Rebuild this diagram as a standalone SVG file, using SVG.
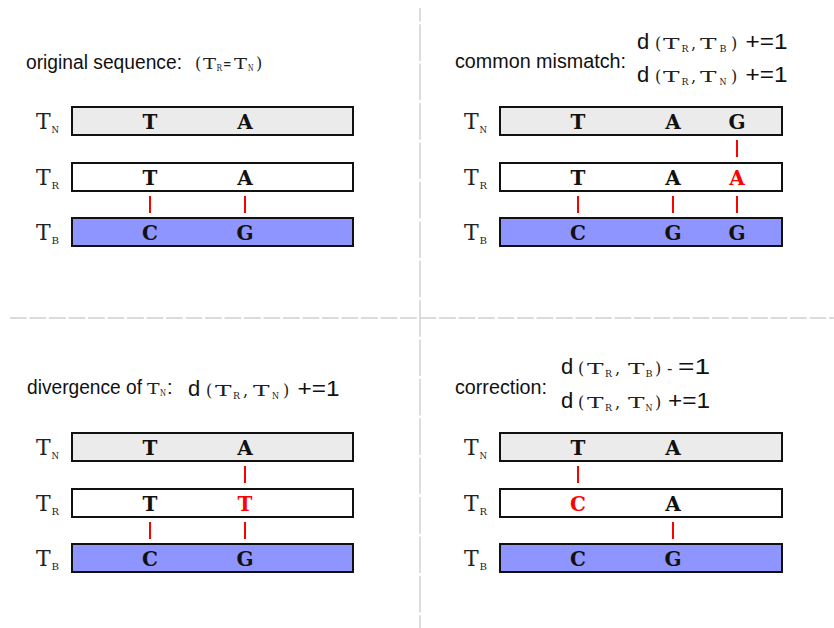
<svg xmlns="http://www.w3.org/2000/svg" width="834" height="628" viewBox="0 0 834 628">
<style>
.sans{font-family:"Liberation Sans",Arial,sans-serif;fill:#111}
.t{font-size:20px}
.d{font-size:22px}
.mono{font-family:"DejaVu Serif","Liberation Serif",serif;fill:#222}
.fm{font-size:14.5px}
.par{font-size:16px}
.sub{font-size:8.5px}
.lbl{font-size:22px}
.lsub{font-size:10px}
.let{font-family:"DejaVu Serif","Liberation Serif",serif;font-weight:bold;font-size:20px;fill:#111;text-anchor:middle}
.red{fill:#ff0000}
.bn{fill:#ebebeb;stroke:#111;stroke-width:2}
.br{fill:#ffffff;stroke:#111;stroke-width:2}
.bb{fill:#8e95ff;stroke:#111;stroke-width:2}
.ln{stroke:#ff0000;stroke-width:2}
.div{stroke:#cfcfcf;stroke-width:1.4;fill:none}
</style>
<g id="dividers">
<line class="div" x1="420" y1="8" x2="420" y2="628" stroke-dasharray="36.7 2.7" stroke-dashoffset="23.2"/>
<line class="div" x1="10" y1="318" x2="834" y2="318" stroke-dasharray="16.8 2.7"/>
</g>

<!-- Panel 1 -->
<g id="panel1-title">
<text class="sans t" x="26" y="69" textLength="156" lengthAdjust="spacingAndGlyphs">original sequence:</text>
<text class="mono par" x="195" y="69">(</text>
<text class="mono fm" x="203" y="69" textLength="13" lengthAdjust="spacingAndGlyphs">T</text>
<text class="mono sub" x="216.5" y="71" textLength="5.5" lengthAdjust="spacingAndGlyphs">R</text>
<text class="mono fm" x="223" y="69" textLength="8.5" lengthAdjust="spacingAndGlyphs">=</text>
<text class="mono fm" x="234" y="69" textLength="13" lengthAdjust="spacingAndGlyphs">T</text>
<text class="mono sub" x="248" y="71" textLength="5.5" lengthAdjust="spacingAndGlyphs">N</text>
<text class="mono par" x="256" y="69">)</text>
</g>
<g id="p1-labels">
<text class="mono lbl" x="36" y="129">T</text><text class="mono lsub" x="51.5" y="133" textLength="7.5" lengthAdjust="spacingAndGlyphs">N</text>
<text class="mono lbl" x="36" y="185">T</text><text class="mono lsub" x="51.5" y="189" textLength="7.5" lengthAdjust="spacingAndGlyphs">R</text>
<text class="mono lbl" x="36" y="240">T</text><text class="mono lsub" x="51.5" y="244" textLength="7.5" lengthAdjust="spacingAndGlyphs">B</text>
</g>
<g id="p1-TN"><rect class="bn" x="72" y="107" width="281" height="28"/><text class="let" x="150" y="129">T</text><text class="let" x="245" y="129">A</text></g>
<g id="p1-TR"><rect class="br" x="72" y="163" width="281" height="28"/><text class="let" x="150" y="185">T</text><text class="let" x="245" y="185">A</text></g>
<g id="p1-TB"><rect class="bb" x="72" y="218" width="281" height="28"/><text class="let" x="150" y="240">C</text><text class="let" x="245" y="240">G</text></g>

<!-- Panel 2 -->
<g id="panel2-title">
<text class="sans t" x="455" y="68" textLength="171" lengthAdjust="spacingAndGlyphs">common mismatch:</text>
<text class="sans d" x="637" y="49">d</text>
<text class="mono par" x="655" y="49">(</text>
<text class="mono fm" x="663" y="49" textLength="16.5" lengthAdjust="spacingAndGlyphs">T</text>
<text class="mono sub" x="681.5" y="52" textLength="7" lengthAdjust="spacingAndGlyphs">R</text>
<text class="mono par" x="691" y="49">,</text>
<text class="mono fm" x="700" y="49" textLength="16.5" lengthAdjust="spacingAndGlyphs">T</text>
<text class="mono sub" x="719.5" y="52" textLength="7" lengthAdjust="spacingAndGlyphs">B</text>
<text class="mono par" x="731" y="49">)</text>
<text class="sans d" x="745.5" y="49" textLength="42" lengthAdjust="spacingAndGlyphs">+=1</text>
<text class="sans d" x="637" y="82">d</text>
<text class="mono par" x="655" y="82">(</text>
<text class="mono fm" x="663" y="82" textLength="16.5" lengthAdjust="spacingAndGlyphs">T</text>
<text class="mono sub" x="681.5" y="85" textLength="7" lengthAdjust="spacingAndGlyphs">R</text>
<text class="mono par" x="691" y="82">,</text>
<text class="mono fm" x="700" y="82" textLength="16.5" lengthAdjust="spacingAndGlyphs">T</text>
<text class="mono sub" x="719.5" y="85" textLength="7" lengthAdjust="spacingAndGlyphs">N</text>
<text class="mono par" x="731" y="82">)</text>
<text class="sans d" x="745.5" y="82" textLength="42" lengthAdjust="spacingAndGlyphs">+=1</text>
</g>
<g id="p2-labels">
<text class="mono lbl" x="464" y="129">T</text><text class="mono lsub" x="479.5" y="133" textLength="7.5" lengthAdjust="spacingAndGlyphs">N</text>
<text class="mono lbl" x="464" y="185">T</text><text class="mono lsub" x="479.5" y="189" textLength="7.5" lengthAdjust="spacingAndGlyphs">R</text>
<text class="mono lbl" x="464" y="240">T</text><text class="mono lsub" x="479.5" y="244" textLength="7.5" lengthAdjust="spacingAndGlyphs">B</text>
</g>
<g id="p2-TN"><rect class="bn" x="500" y="107" width="282" height="28"/><text class="let" x="578" y="129">T</text><text class="let" x="673" y="129">A</text><text class="let" x="737" y="129">G</text></g>
<g id="p2-TR"><rect class="br" x="500" y="163" width="282" height="28"/><text class="let" x="578" y="185">T</text><text class="let" x="673" y="185">A</text><text class="let red" x="737" y="185">A</text></g>
<g id="p2-TB"><rect class="bb" x="500" y="218" width="282" height="28"/><text class="let" x="578" y="240">C</text><text class="let" x="673" y="240">G</text><text class="let" x="737" y="240">G</text></g>

<!-- Panel 3 -->
<g id="panel3-title">
<text class="sans t" x="27" y="394" textLength="115" lengthAdjust="spacingAndGlyphs">divergence of</text>
<text class="mono fm" x="147" y="394" textLength="12.5" lengthAdjust="spacingAndGlyphs">T</text>
<text class="mono sub" x="160" y="396" textLength="6" lengthAdjust="spacingAndGlyphs">N</text>
<text class="sans t" x="167" y="394">:</text>
<text class="sans d" x="188" y="396">d</text>
<text class="mono par" x="206" y="396">(</text>
<text class="mono fm" x="215" y="396" textLength="16.5" lengthAdjust="spacingAndGlyphs">T</text>
<text class="mono sub" x="233" y="399" textLength="7" lengthAdjust="spacingAndGlyphs">R</text>
<text class="mono par" x="243" y="396">,</text>
<text class="mono fm" x="253" y="396" textLength="16.5" lengthAdjust="spacingAndGlyphs">T</text>
<text class="mono sub" x="272" y="399" textLength="7" lengthAdjust="spacingAndGlyphs">N</text>
<text class="mono par" x="283" y="396">)</text>
<text class="sans d" x="297.5" y="396" textLength="42" lengthAdjust="spacingAndGlyphs">+=1</text>
</g>
<g id="p3-labels">
<text class="mono lbl" x="36" y="455">T</text><text class="mono lsub" x="51.5" y="459" textLength="7.5" lengthAdjust="spacingAndGlyphs">N</text>
<text class="mono lbl" x="36" y="511">T</text><text class="mono lsub" x="51.5" y="515" textLength="7.5" lengthAdjust="spacingAndGlyphs">R</text>
<text class="mono lbl" x="36" y="566">T</text><text class="mono lsub" x="51.5" y="570" textLength="7.5" lengthAdjust="spacingAndGlyphs">B</text>
</g>
<g id="p3-TN"><rect class="bn" x="72" y="433" width="281" height="28"/><text class="let" x="150" y="455">T</text><text class="let" x="245" y="455">A</text></g>
<g id="p3-TR"><rect class="br" x="72" y="489" width="281" height="28"/><text class="let" x="150" y="511">T</text><text class="let red" x="245" y="511">T</text></g>
<g id="p3-TB"><rect class="bb" x="72" y="544" width="281" height="28"/><text class="let" x="150" y="566">C</text><text class="let" x="245" y="566">G</text></g>

<!-- Panel 4 -->
<g id="panel4-title">
<text class="sans t" x="455" y="394" textLength="92" lengthAdjust="spacingAndGlyphs">correction:</text>
<text class="sans d" x="561" y="374">d</text>
<text class="mono par" x="578" y="374">(</text>
<text class="mono fm" x="587" y="374" textLength="16.5" lengthAdjust="spacingAndGlyphs">T</text>
<text class="mono sub" x="605" y="377" textLength="7" lengthAdjust="spacingAndGlyphs">R</text>
<text class="mono par" x="615" y="374">,</text>
<text class="mono fm" x="628" y="374" textLength="16.5" lengthAdjust="spacingAndGlyphs">T</text>
<text class="mono sub" x="645.5" y="377" textLength="7" lengthAdjust="spacingAndGlyphs">B</text>
<text class="mono par" x="655" y="374">)</text>
<text class="mono par" x="667" y="374">-</text>
<text class="sans d" x="678" y="374" textLength="32" lengthAdjust="spacingAndGlyphs">=1</text>
<text class="sans d" x="561" y="408">d</text>
<text class="mono par" x="578" y="408">(</text>
<text class="mono fm" x="587" y="408" textLength="16.5" lengthAdjust="spacingAndGlyphs">T</text>
<text class="mono sub" x="605" y="411" textLength="7" lengthAdjust="spacingAndGlyphs">R</text>
<text class="mono par" x="615" y="408">,</text>
<text class="mono fm" x="628" y="408" textLength="16.5" lengthAdjust="spacingAndGlyphs">T</text>
<text class="mono sub" x="645.5" y="411" textLength="7" lengthAdjust="spacingAndGlyphs">N</text>
<text class="mono par" x="655" y="408">)</text>
<text class="sans d" x="668" y="408" textLength="42" lengthAdjust="spacingAndGlyphs">+=1</text>
</g>
<g id="p4-labels">
<text class="mono lbl" x="464" y="455">T</text><text class="mono lsub" x="479.5" y="459" textLength="7.5" lengthAdjust="spacingAndGlyphs">N</text>
<text class="mono lbl" x="464" y="511">T</text><text class="mono lsub" x="479.5" y="515" textLength="7.5" lengthAdjust="spacingAndGlyphs">R</text>
<text class="mono lbl" x="464" y="566">T</text><text class="mono lsub" x="479.5" y="570" textLength="7.5" lengthAdjust="spacingAndGlyphs">B</text>
</g>
<g id="p4-TN"><rect class="bn" x="500" y="433" width="282" height="28"/><text class="let" x="578" y="455">T</text><text class="let" x="673" y="455">A</text></g>
<g id="p4-TR"><rect class="br" x="500" y="489" width="282" height="28"/><text class="let red" x="578" y="511">C</text><text class="let" x="673" y="511">A</text></g>
<g id="p4-TB"><rect class="bb" x="500" y="544" width="282" height="28"/><text class="let" x="578" y="566">C</text><text class="let" x="673" y="566">G</text></g>

<g id="connectors">
<line class="ln" x1="150" y1="196" x2="150" y2="213"/>
<line class="ln" x1="245" y1="196" x2="245" y2="213"/>
<line class="ln" x1="737" y1="140" x2="737" y2="157"/>
<line class="ln" x1="578" y1="196" x2="578" y2="213"/>
<line class="ln" x1="673" y1="196" x2="673" y2="213"/>
<line class="ln" x1="737" y1="196" x2="737" y2="213"/>
<line class="ln" x1="245" y1="466" x2="245" y2="483"/>
<line class="ln" x1="150" y1="522" x2="150" y2="539"/>
<line class="ln" x1="245" y1="522" x2="245" y2="539"/>
<line class="ln" x1="578" y1="466" x2="578" y2="483"/>
<line class="ln" x1="673" y1="522" x2="673" y2="539"/>
</g>
</svg>
